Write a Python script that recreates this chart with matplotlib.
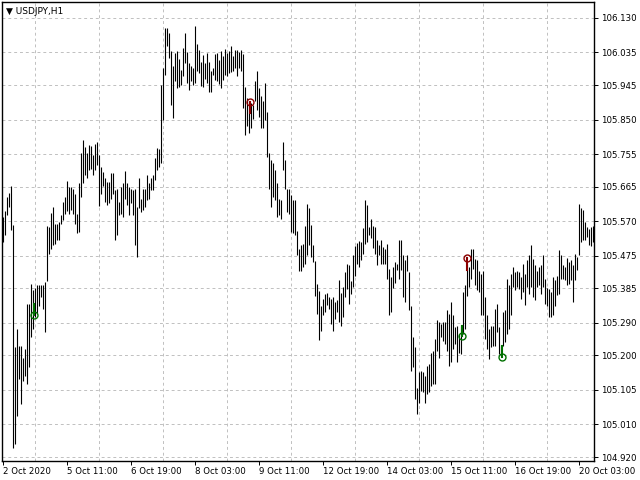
import matplotlib
matplotlib.use("Agg")
import matplotlib.pyplot as plt
import numpy as np

# hourly bars USDJPY (high / low)
highs = [105.582, 105.597, 105.637, 105.648, 105.667, 105.559, 105.224, 105.273, 105.227, 105.227,
         105.194, 105.218, 105.342, 105.342, 105.397, 105.379, 105.386, 105.393, 105.393, 105.395,
         105.395, 105.402, 105.556, 105.554, 105.593, 105.609, 105.563, 105.563, 105.568, 105.586,
         105.623, 105.637, 105.680, 105.663, 105.665, 105.660, 105.646, 105.591, 105.674, 105.757,
         105.794, 105.775, 105.757, 105.780, 105.777, 105.752, 105.783, 105.789, 105.752, 105.720,
         105.706, 105.688, 105.679, 105.679, 105.703, 105.702, 105.655, 105.660, 105.623, 105.665,
         105.674, 105.709, 105.676, 105.665, 105.660, 105.655, 105.660, 105.609, 105.690, 105.632,
         105.660, 105.660, 105.697, 105.674,
         105.688, 105.697, 105.743, 105.771, 105.768, 105.946, 105.992, 106.103, 106.103, 106.089,
         106.038, 105.997, 106.033, 106.038, 106.017, 105.987, 106.047, 106.089, 106.035, 106.006,
         105.997, 105.992, 106.107, 106.057, 106.043, 106.010, 106.029, 106.006, 106.033, 106.008,
         105.983, 105.992, 106.032, 106.033, 106.015, 106.038, 106.026, 106.045, 106.033, 106.038,
         106.052, 106.026, 106.043, 106.041, 106.035, 106.043, 106.032, 105.939, 105.909, 105.900,
         105.895, 105.891, 105.955, 105.985, 105.937, 105.914, 105.900, 105.950, 105.872, 105.757,
         105.738, 105.729, 105.711, 105.676, 105.632, 105.628, 105.789, 105.738, 105.660, 105.660,
         105.642, 105.628, 105.628, 105.542,
         105.494, 105.503, 105.508, 105.556, 105.617, 105.605, 105.559, 105.503, 105.459, 105.397,
         105.377, 105.335, 105.356, 105.370, 105.371, 105.360, 105.356, 105.360, 105.347, 105.353,
         105.407, 105.371, 105.388, 105.430, 105.453, 105.448, 105.405, 105.478, 105.501, 105.510,
         105.515, 105.513, 105.552, 105.628, 105.614, 105.554, 105.577, 105.556, 105.554, 105.519,
         105.505, 105.519, 105.499, 105.494, 105.508, 105.439, 105.416, 105.443, 105.457, 105.453,
         105.517, 105.517, 105.476, 105.464, 105.476, 105.430, 105.337, 105.250, 105.222, 105.111,
         105.153, 105.156, 105.153, 105.144, 105.171, 105.176, 105.208, 105.213, 105.245, 105.298,
         105.291, 105.287, 105.291, 105.291,
         105.324, 105.314, 105.347, 105.310, 105.277, 105.282, 105.259, 105.282, 105.374, 105.393,
         105.453, 105.443, 105.494, 105.494, 105.466, 105.462, 105.434, 105.425, 105.432, 105.360,
         105.310, 105.273, 105.282, 105.282, 105.328, 105.342, 105.277, 105.227, 105.319, 105.324,
         105.411, 105.393, 105.425, 105.443, 105.430, 105.434, 105.430, 105.416, 105.453, 105.425,
         105.462, 105.476, 105.503, 105.466, 105.448, 105.434, 105.443, 105.448, 105.478, 105.411,
         105.386, 105.383, 105.374, 105.416, 105.407, 105.420, 105.491, 105.476, 105.448, 105.443,
         105.469, 105.457, 105.462, 105.448, 105.480, 105.471, 105.617, 105.605, 105.602, 105.568,
         105.554, 105.549, 105.554, 105.556]

lows = [105.513, 105.531, 105.586, 105.609, 105.545, 104.946, 104.955, 105.033, 105.135, 105.065,
        105.130, 105.144, 105.121, 105.167, 105.250, 105.273, 105.305, 105.314, 105.337, 105.360,
        105.328, 105.264, 105.405, 105.480, 105.494, 105.503, 105.508, 105.517, 105.517, 105.563,
        105.572, 105.591, 105.598, 105.591, 105.600, 105.591, 105.563, 105.538, 105.540, 105.637,
        105.674, 105.697, 105.688, 105.711, 105.715, 105.697, 105.711, 105.725, 105.611, 105.646,
        105.667, 105.623, 105.614, 105.619, 105.632, 105.646, 105.517, 105.531, 105.586, 105.591,
        105.582, 105.632, 105.614, 105.586, 105.619, 105.586, 105.503, 105.471, 105.605, 105.596,
        105.602, 105.609, 105.628, 105.632,
        105.655, 105.655, 105.683, 105.711, 105.720, 105.729, 105.849, 105.974, 106.052, 106.020,
        105.891, 105.854, 105.955, 105.937, 105.939, 105.946, 105.969, 106.006, 105.950, 105.932,
        105.955, 105.946, 105.950, 105.983, 105.978, 105.943, 105.939, 105.962, 105.950, 105.927,
        105.925, 105.974, 105.960, 105.955, 105.949, 105.937, 105.960, 105.974, 105.971, 105.978,
        105.980, 105.983, 105.992, 105.969, 105.992, 105.983, 105.883, 105.808, 105.831, 105.814,
        105.826, 105.851, 105.900, 105.877, 105.858, 105.826, 105.826, 105.849, 105.748, 105.660,
        105.609, 105.637, 105.628, 105.582, 105.586, 105.577, 105.711, 105.660, 105.596, 105.591,
        105.540, 105.536, 105.531, 105.476,
        105.432, 105.432, 105.445, 105.453, 105.476, 105.503, 105.471, 105.457, 105.365, 105.314,
        105.242, 105.268, 105.310, 105.319, 105.340, 105.328, 105.287, 105.268, 105.300, 105.319,
        105.291, 105.282, 105.305, 105.360, 105.383, 105.342, 105.368, 105.388, 105.418, 105.453,
        105.443, 105.462, 105.480, 105.508, 105.513, 105.531, 105.524, 105.497, 105.480, 105.448,
        105.476, 105.453, 105.453, 105.453, 105.411, 105.310, 105.319, 105.386, 105.399, 105.436,
        105.411, 105.436, 105.360, 105.347, 105.434, 105.324, 105.158, 105.167, 105.079, 105.038,
        105.070, 105.102, 105.100, 105.070, 105.093, 105.098, 105.116, 105.121, 105.121, 105.213,
        105.194, 105.250, 105.241, 105.231,
        105.213, 105.171, 105.181, 105.218, 105.231, 105.181, 105.208, 105.204, 105.259, 105.273,
        105.365, 105.388, 105.411, 105.439, 105.393, 105.379, 105.374, 105.310, 105.310, 105.245,
        105.218, 105.190, 105.222, 105.227, 105.227, 105.264, 105.204, 105.204, 105.227, 105.236,
        105.259, 105.273, 105.310, 105.388, 105.379, 105.388, 105.383, 105.356, 105.374, 105.340,
        105.388, 105.370, 105.388, 105.360, 105.353, 105.388, 105.393, 105.370, 105.388, 105.342,
        105.337, 105.305, 105.305, 105.310, 105.337, 105.367, 105.370, 105.411, 105.411, 105.407,
        105.393, 105.397, 105.407, 105.347, 105.407, 105.436, 105.476, 105.513, 105.517, 105.519,
        105.525, 105.503, 105.501, 105.513]

price_ticks = [104.920, 105.010, 105.105, 105.200, 105.290, 105.385, 105.475,
               105.570, 105.665, 105.755, 105.850, 105.945, 106.035, 106.130]

time_idx = [0, 32, 64, 96, 128, 160, 192, 224, 256, 288]
time_labels = ["2 Oct 2020", "5 Oct 11:00", "6 Oct 19:00", "8 Oct 03:00", "9 Oct 11:00",
               "12 Oct 19:00", "14 Oct 03:00", "15 Oct 11:00", "16 Oct 19:00", "20 Oct 03:00"]

# signal arrows: bar index, price at the circle, price at end of stem
sell_idx = [123.5, 232]
sell_price = [105.899, 105.469]
sell_stem = [105.869, 105.436]
buy_idx = [15.5, 229.5, 249.5]
buy_price = [105.312, 105.254, 105.195]
buy_stem = [105.342, 105.282, 105.227]

fs = 6.2

fig = plt.figure(figsize=(6.4, 4.8), dpi=100)
ax = fig.add_axes([2/640, 19/480, 592/640, 459/480])

x = np.arange(len(highs))
ax.vlines(x, lows, highs, color="black", linewidth=0.8)

ax.set_xlim(-0.5, len(highs) - 0.5)
ax.set_ylim(104.909, 106.174)

# grid
ax.set_yticks(price_ticks)
ax.set_yticklabels(["%.3f" % p for p in price_ticks])
ax.set_xticks(time_idx)
ax.set_xticklabels(time_labels, ha="left")
ax.set_xticks(np.arange(16, len(highs), 16), minor=True)
ax.grid(which="minor", axis="x", color="#c0c0c0", linestyle=(0, (3, 3)), linewidth=0.7)
ax.grid(which="major", axis="y", color="#c0c0c0", linestyle=(0, (3, 3)), linewidth=0.7)
ax.set_axisbelow(True)

ax.yaxis.tick_right()
ax.tick_params(axis="y", direction="out", length=3, width=0.7, pad=2, labelsize=fs)
ax.tick_params(axis="x", which="major", direction="out", length=3, width=0.7, pad=1, labelsize=fs)
ax.tick_params(axis="x", which="minor", length=0)
for s in ax.spines.values():
    s.set_linewidth(1.0)

# arrows
for i, p, s in zip(sell_idx, sell_price, sell_stem):
    ax.plot([i, i], [p, s], color="#8b0000", linewidth=1.5)
    ax.plot(i, p, marker="o", markersize=5, fillstyle="none", color="#8b0000", markeredgewidth=1)
for i, p, s in zip(buy_idx, buy_price, buy_stem):
    ax.plot([i, i], [p, s], color="#007000", linewidth=1.5)
    ax.plot(i, p, marker="o", markersize=5, fillstyle="none", color="#007000", markeredgewidth=1)

fig.text(6/640, 1 - 11/480, "\u25bc USDJPY,H1", fontsize=fs + 0.3, va="center", ha="left")

fig.savefig("out.png", dpi=100)
